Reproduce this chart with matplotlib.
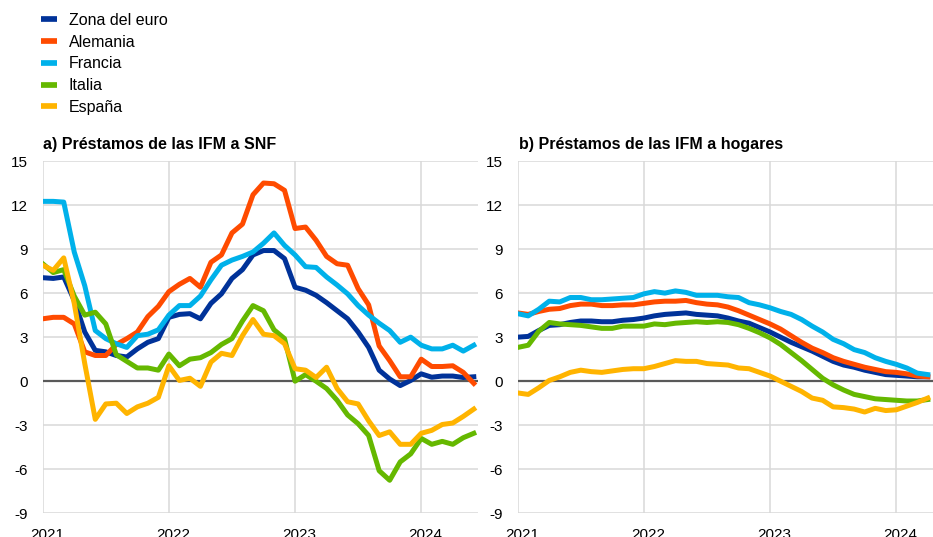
import matplotlib
matplotlib.use("Agg")
import matplotlib.pyplot as plt
from matplotlib.transforms import ScaledTranslation

plt.rcParams["font.family"] = ["Liberation Sans", "DejaVu Sans"]
plt.rcParams["axes.unicode_minus"] = False

# monthly data, Jan 2021 onwards (annual growth rates, %)
snf_euro = [7.05, 7.0, 7.1, 5.5, 3.35, 2.1, 2.0, 1.75, 1.65, 2.2, 2.65, 2.9,
            4.35, 4.55, 4.6, 4.25, 5.3, 5.95, 7.0, 7.6, 8.6, 8.9, 8.9, 8.35,
            6.4, 6.2, 5.85, 5.35, 4.8, 4.25, 3.35, 2.3, 0.75, 0.15, -0.3, 0.05,
            0.5, 0.27, 0.35, 0.35, 0.25, 0.3]
snf_de = [4.25, 4.35, 4.35, 3.9, 2.0, 1.75, 1.75, 2.5, 2.9, 3.35, 4.4, 5.1,
          6.1, 6.6, 7.0, 6.4, 8.1, 8.6, 10.1, 10.7, 12.7, 13.5, 13.45, 13.0,
          10.4, 10.5, 9.6, 8.5, 8.0, 7.9, 6.3, 5.2, 2.4, 1.4, 0.3, 0.3,
          1.5, 1.0, 1.0, 1.05, 0.6, -0.15]
snf_fr = [12.25, 12.25, 12.2, 8.8, 6.5, 3.45, 2.9, 2.55, 2.3, 3.1, 3.2, 3.5,
          4.5, 5.15, 5.15, 5.8, 6.9, 7.9, 8.25, 8.5, 8.8, 9.4, 10.1, 9.25,
          8.6, 7.8, 7.75, 7.1, 6.55, 5.95, 5.15, 4.5, 3.95, 3.45, 2.65, 3.0,
          2.45, 2.2, 2.2, 2.45, 2.05, 2.45]
snf_it = [8.0, 7.4, 7.6, 5.8, 4.5, 4.7, 3.9, 1.8, 1.35, 0.9, 0.9, 0.75,
          1.85, 1.05, 1.5, 1.6, 1.95, 2.5, 2.9, 4.1, 5.15, 4.8, 3.5, 2.9,
          0.0, 0.45, 0.0, -0.5, -1.3, -2.3, -2.9, -3.7, -6.1, -6.75, -5.5, -4.95,
          -3.9, -4.3, -4.1, -4.3, -3.85, -3.55]
snf_es = [7.9, 7.55, 8.4, 5.3, 1.2, -2.6, -1.55, -1.5, -2.2, -1.75, -1.5, -1.1,
          1.05, 0.05, 0.2, -0.35, 1.3, 1.9, 1.75, 3.1, 4.2, 3.2, 3.1, 2.55,
          0.85, 0.75, 0.25, 0.95, -0.5, -1.4, -1.55, -2.7, -3.7, -3.45, -4.3, -4.3,
          -3.55, -3.35, -2.95, -2.85, -2.4, -1.9]

hh_euro = [3.0, 3.05, 3.45, 3.8, 3.85, 4.0, 4.1, 4.1, 4.05, 4.05, 4.15, 4.2,
           4.3, 4.45, 4.55, 4.6, 4.65, 4.55, 4.5, 4.45, 4.3, 4.1, 3.95, 3.65,
           3.35, 3.0, 2.65, 2.35, 2.05, 1.7, 1.35, 1.1, 0.95, 0.75, 0.6, 0.45,
           0.4, 0.35, 0.3, 0.3]
hh_de = [4.65, 4.55, 4.75, 4.9, 4.95, 5.15, 5.25, 5.25, 5.15, 5.15, 5.2, 5.2,
         5.3, 5.4, 5.45, 5.45, 5.5, 5.35, 5.25, 5.2, 5.05, 4.8, 4.5, 4.2,
         3.9, 3.55, 3.1, 2.65, 2.25, 1.95, 1.6, 1.35, 1.15, 0.95, 0.8, 0.65,
         0.6, 0.5, 0.35, 0.3]
hh_fr = [4.6, 4.45, 4.9, 5.45, 5.4, 5.7, 5.7, 5.55, 5.55, 5.6, 5.65, 5.7,
         5.95, 6.1, 6.0, 6.15, 6.05, 5.85, 5.85, 5.85, 5.75, 5.7, 5.35, 5.2,
         5.0, 4.75, 4.55, 4.2, 3.75, 3.35, 2.85, 2.55, 2.15, 1.95, 1.6, 1.35,
         1.15, 0.9, 0.55, 0.45]
hh_it = [2.3, 2.45, 3.4, 4.0, 3.9, 3.85, 3.8, 3.7, 3.6, 3.6, 3.75, 3.75,
         3.75, 3.9, 3.85, 3.95, 4.0, 4.05, 4.0, 4.05, 4.0, 3.85, 3.6, 3.3,
         2.95, 2.5, 1.95, 1.4, 0.8, 0.2, -0.25, -0.6, -0.9, -1.05, -1.2, -1.25,
         -1.3, -1.35, -1.35, -1.25]
hh_es = [-0.8, -0.9, -0.45, 0.05, 0.3, 0.6, 0.75, 0.65, 0.6, 0.7, 0.8, 0.85,
         0.85, 1.0, 1.2, 1.4, 1.35, 1.35, 1.2, 1.15, 1.1, 0.9, 0.85, 0.6,
         0.35, 0.0, -0.35, -0.7, -1.15, -1.3, -1.75, -1.8, -1.9, -2.1, -1.85, -2.0,
         -1.95, -1.7, -1.45, -1.15]

names = ["Zona del euro", "Alemania", "Francia", "Italia", "España"]
colors = ["#003299", "#FF4B00", "#00B1EA", "#65B800", "#FFB400"]
year_pos = [0, 12, 24, 36]
year_labels = ["2021", "2022", "2023", "2024"]
yticks = list(range(-9, 16, 3))

fig = plt.figure(figsize=(9.33, 5.37), dpi=100)
W, H = 933, 537
bottom = 1 - 513.3 / H
height = (513.3 - 161) / H
width = 435.3 / W
ax_a = fig.add_axes([42.7 / W, bottom, width, height])
ax_b = fig.add_axes([517.7 / W, bottom, width, height])

panels = [
    (ax_a, [snf_euro, snf_de, snf_fr, snf_it, snf_es], "a) Préstamos de las IFM a SNF", 43.3),
    (ax_b, [hh_euro, hh_de, hh_fr, hh_it, hh_es], "b) Préstamos de las IFM a hogares", 519.3),
]

for ax, series, title, tx in panels:
    for vals, c, n in zip(series, colors, names):
        ax.plot(range(len(vals)), vals, color=c, lw=3.6, label=n, zorder=3)
    ax.axhline(0, color="#595959", lw=1.6, zorder=2)
    ax.set_xlim(0, 41.4)
    ax.set_ylim(-9, 15)
    ax.set_yticks(yticks)
    ax.set_xticks(year_pos)
    ax.set_xticklabels(year_labels)
    ax.grid(True, color="#d9d9d9", lw=1.1, zorder=0)
    ax.set_axisbelow(True)
    for s in ax.spines.values():
        s.set_visible(False)
    ax.tick_params(length=0, labelsize=11, colors="#000000", pad=10.5)
    for lab in ax.get_xticklabels():
        lab.set_transform(lab.get_transform() + ScaledTranslation(0.045, 0, fig.dpi_scale_trans))
    fig.text(tx / W, 1 - 149 / H, title, fontsize=11.5, fontweight="bold", va="baseline")

handles, labels = ax_a.get_legend_handles_labels()
leg = fig.legend(handles, labels, loc="upper left", bbox_to_anchor=(40.7 / W, 1 - 13 / H),
                 frameon=False, fontsize=11.5, handlelength=1.0, handletextpad=0.75,
                 labelspacing=0.42, borderpad=0, borderaxespad=0)
for h in leg.get_lines():
    h.set_linewidth(4.1)
    h.set_solid_capstyle("butt")

fig.savefig("out.png", dpi=100)
